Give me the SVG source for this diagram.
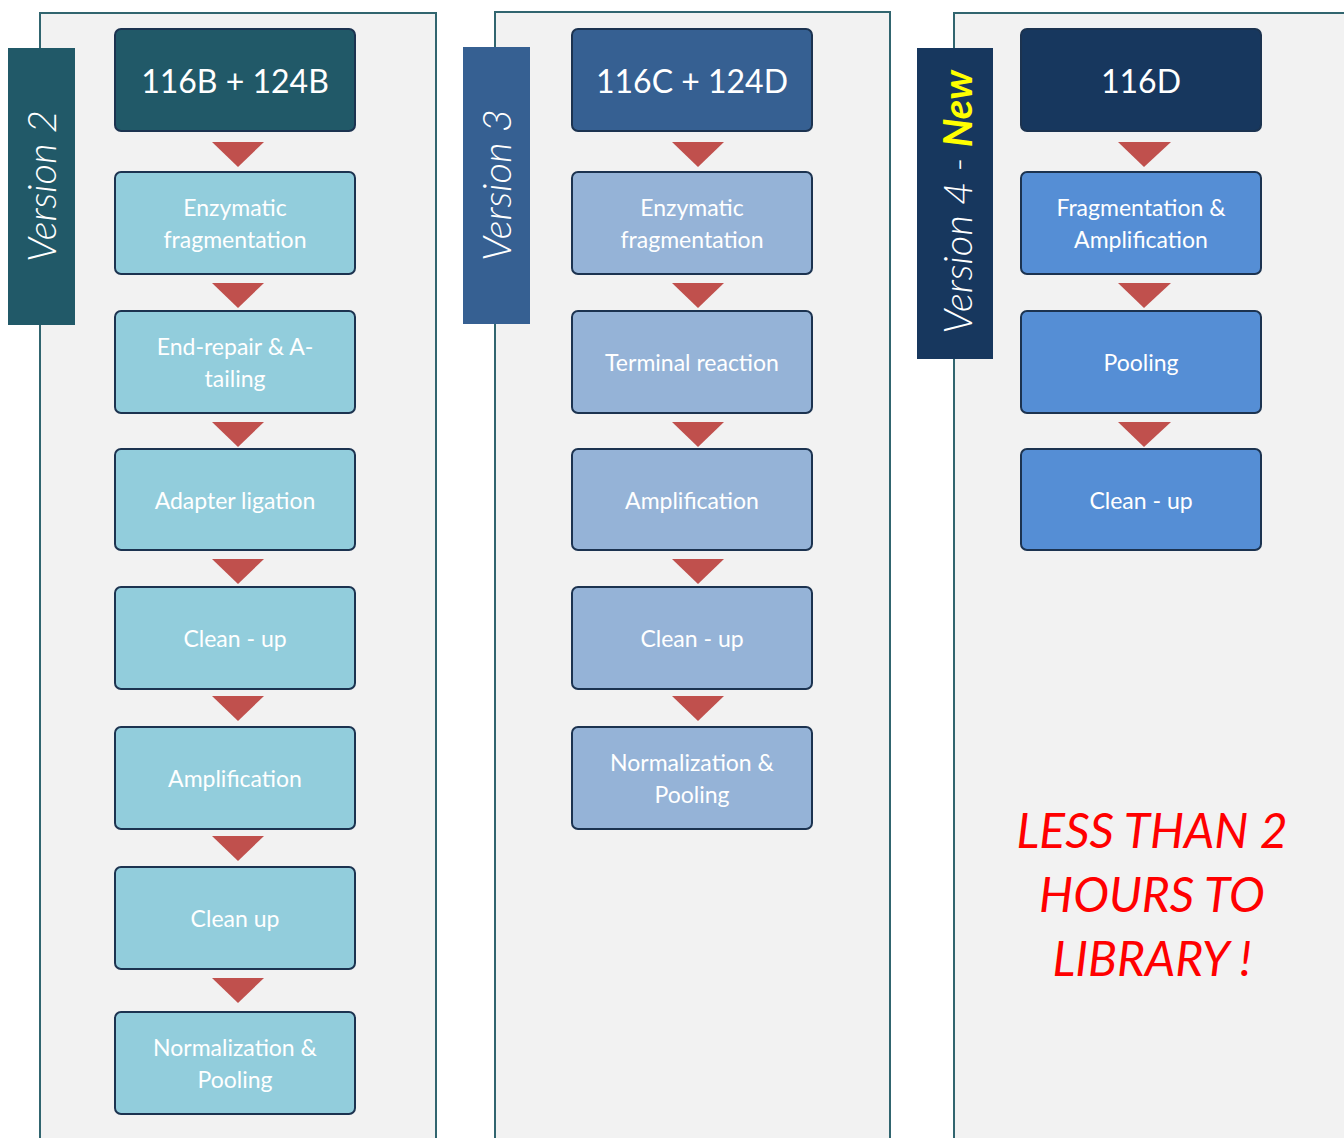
<svg xmlns="http://www.w3.org/2000/svg" width="1344" height="1138" viewBox="0 0 1344 1138">
<style>
.panel{fill:#f2f2f2;stroke:#31656f;stroke-width:2}
.node rect{stroke:#1c3350;stroke-width:2}
.h1{fill:#215968}.h2{fill:#366092}.h3{fill:#17375e}
.s1{fill:#92cddc}.s2{fill:#95b3d7}.s3{fill:#558ed5}
.ht{font-family:Lato,"Open Sans",sans-serif;font-size:32px;fill:#fff;text-anchor:middle}
.st{font-family:Lato,"Open Sans",sans-serif;font-size:23px;fill:#fff;text-anchor:middle}
.vt{font-family:Lato,"Open Sans",sans-serif;font-size:40px;font-weight:300;font-style:italic;fill:#fff;text-anchor:middle}
.arr{fill:#c0504d}
.red{font-family:Lato,"Open Sans",sans-serif;font-size:48px;font-style:italic;fill:#ff0000;text-anchor:middle}
</style>
<rect width="1344" height="1138" fill="#fff"/>
<rect class="panel" x="40" y="13" width="396" height="1140"/>
<rect class="panel" x="495" y="12" width="395" height="1140"/>
<rect class="panel" x="954" y="13" width="400" height="1140"/>

<g id="label-v2"><rect class="h1" x="8" y="48" width="67" height="277"/><text class="vt" transform="translate(56,186) rotate(-90)">Version 2</text></g>
<g id="label-v3"><rect class="h2" x="463" y="47" width="67" height="277"/><text class="vt" transform="translate(511,185) rotate(-90)">Version 3</text></g>
<g id="label-v4"><rect class="h3" x="917" y="48" width="76" height="311"/><text class="vt" transform="translate(972,202) rotate(-90)">Version 4 - <tspan fill="#ffff00" font-weight="bold">New</tspan></text></g>

<g id="connectors">
<polygon class="arr" points="212,142 264,142 238,167"/>
<polygon class="arr" points="212,283 264,283 238,308"/>
<polygon class="arr" points="212,422 264,422 238,447"/>
<polygon class="arr" points="212,559 264,559 238,584"/>
<polygon class="arr" points="212,696 264,696 238,721"/>
<polygon class="arr" points="212,836 264,836 238,861"/>
<polygon class="arr" points="212,978 264,978 238,1003"/>
<polygon class="arr" points="672,142 724,142 698,167"/>
<polygon class="arr" points="672,283 724,283 698,308"/>
<polygon class="arr" points="672,422 724,422 698,447"/>
<polygon class="arr" points="672,559 724,559 698,584"/>
<polygon class="arr" points="672,696 724,696 698,721"/>
<polygon class="arr" points="1118,142 1171,142 1144,167"/>
<polygon class="arr" points="1118,283 1171,283 1144,308"/>
<polygon class="arr" points="1118,422 1171,422 1144,447"/>
</g>

<g id="v2-header" class="node"><rect class="h1" x="115" y="29" width="240" height="102" rx="6"/><text class="ht" x="235" y="93">116B + 124B</text></g>
<g id="v2-s1" class="node"><rect class="s1" x="115" y="172" width="240" height="102" rx="6"/><text class="st" x="235" y="216">Enzymatic</text><text class="st" x="235" y="248">fragmentation</text></g>
<g id="v2-s2" class="node"><rect class="s1" x="115" y="311" width="240" height="102" rx="6"/><text class="st" x="235" y="355">End-repair &amp; A-</text><text class="st" x="235" y="387">tailing</text></g>
<g id="v2-s3" class="node"><rect class="s1" x="115" y="449" width="240" height="101" rx="6"/><text class="st" x="235" y="509">Adapter ligation</text></g>
<g id="v2-s4" class="node"><rect class="s1" x="115" y="587" width="240" height="102" rx="6"/><text class="st" x="235" y="647">Clean - up</text></g>
<g id="v2-s5" class="node"><rect class="s1" x="115" y="727" width="240" height="102" rx="6"/><text class="st" x="235" y="787">Amplification</text></g>
<g id="v2-s6" class="node"><rect class="s1" x="115" y="867" width="240" height="102" rx="6"/><text class="st" x="235" y="927">Clean up</text></g>
<g id="v2-s7" class="node"><rect class="s1" x="115" y="1012" width="240" height="102" rx="6"/><text class="st" x="235" y="1056">Normalization &amp;</text><text class="st" x="235" y="1088">Pooling</text></g>

<g id="v3-header" class="node"><rect class="h2" x="572" y="29" width="240" height="102" rx="6"/><text class="ht" x="692" y="93">116C + 124D</text></g>
<g id="v3-s1" class="node"><rect class="s2" x="572" y="172" width="240" height="102" rx="6"/><text class="st" x="692" y="216">Enzymatic</text><text class="st" x="692" y="248">fragmentation</text></g>
<g id="v3-s2" class="node"><rect class="s2" x="572" y="311" width="240" height="102" rx="6"/><text class="st" x="692" y="371">Terminal reaction</text></g>
<g id="v3-s3" class="node"><rect class="s2" x="572" y="449" width="240" height="101" rx="6"/><text class="st" x="692" y="509">Amplification</text></g>
<g id="v3-s4" class="node"><rect class="s2" x="572" y="587" width="240" height="102" rx="6"/><text class="st" x="692" y="647">Clean - up</text></g>
<g id="v3-s5" class="node"><rect class="s2" x="572" y="727" width="240" height="102" rx="6"/><text class="st" x="692" y="771">Normalization &amp;</text><text class="st" x="692" y="803">Pooling</text></g>

<g id="v4-header" class="node"><rect class="h3" x="1021" y="29" width="240" height="102" rx="6"/><text class="ht" x="1141" y="93">116D</text></g>
<g id="v4-s1" class="node"><rect class="s3" x="1021" y="172" width="240" height="102" rx="6"/><text class="st" x="1141" y="216">Fragmentation &amp;</text><text class="st" x="1141" y="248">Amplification</text></g>
<g id="v4-s2" class="node"><rect class="s3" x="1021" y="311" width="240" height="102" rx="6"/><text class="st" x="1141" y="371">Pooling</text></g>
<g id="v4-s3" class="node"><rect class="s3" x="1021" y="449" width="240" height="101" rx="6"/><text class="st" x="1141" y="509">Clean - up</text></g>

<g id="note"><text class="red" x="1152" y="848">LESS THAN 2</text><text class="red" x="1152" y="912">HOURS TO</text><text class="red" x="1152" y="976">LIBRARY !</text></g>
</svg>
